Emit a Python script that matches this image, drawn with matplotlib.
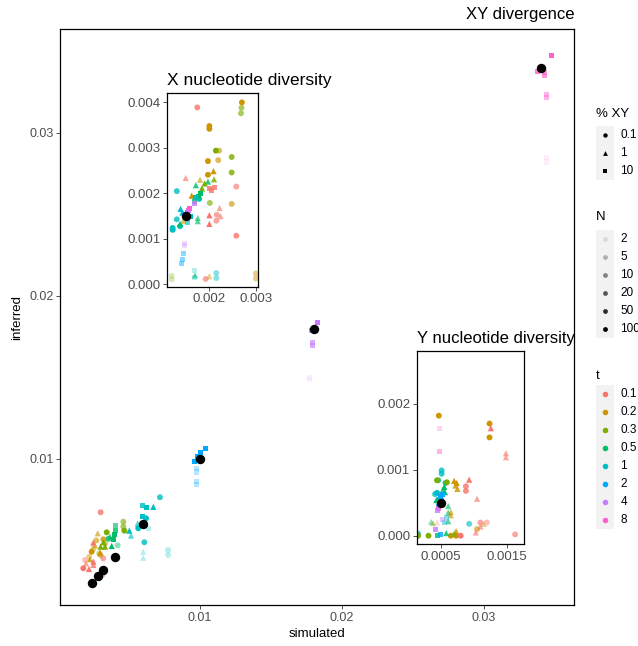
import matplotlib
matplotlib.use('Agg')
import matplotlib.pyplot as plt
from matplotlib.patches import Rectangle
from matplotlib.colors import to_rgba

plt.rcParams['font.family'] = ['Liberation Sans', 'DejaVu Sans']

# ---------------- categories ----------------
t_levels = [0.1, 0.2, 0.3, 0.5, 1, 2, 4, 8]
t_colors = ['#F8766D', '#CD9600', '#7CAE00', '#00BE67', '#00BFC4', '#00A9FF', '#C77CFF', '#FF61CC']
N_levels = [2, 5, 10, 20, 50, 100]
N_alpha = [0.1, 0.28, 0.46, 0.64, 0.82, 1.0]
pct_levels = [0.1, 1, 10]
pct_markers = ['o', '^', 's']
pct_sizes = [18, 20, 13]

# ---------------- XY divergence (main panel) ----------------
div_sim = [0.03477, 0.03375, 0.03425, 0.03425, 0.03437, 0.03437, 0.03439, 0.03439,
           0.01829, 0.01787, 0.01791, 0.01791, 0.01770, 0.01770,
           0.01037, 0.01005, 0.00981, 0.00958, 0.00977, 0.00977, 0.00977, 0.00977,
           0.00718, 0.00671, 0.00594, 0.00622, 0.00596, 0.00620, 0.00561, 0.00565, 0.00636, 0.00502,
           0.00514, 0.00608, 0.00600, 0.00600, 0.00775, 0.00775,
           0.00406, 0.00406, 0.00396, 0.00389, 0.00378, 0.00366, 0.00355, 0.00420,
           0.00460, 0.00460, 0.00467, 0.00343, 0.00331, 0.00300, 0.00320, 0.00290,
           0.00280, 0.00319, 0.00237, 0.00296, 0.00225, 0.00270, 0.00260, 0.00330, 0.00250, 0.00300, 0.00220,
           0.00300, 0.00249, 0.00190, 0.00197, 0.00249, 0.00249, 0.00178, 0.00218, 0.00312, 0.00319]
div_inf = [0.03477, 0.03379, 0.03370, 0.03350, 0.03237, 0.03215, 0.02848, 0.02822,
           0.01836, 0.01791, 0.01713, 0.01699, 0.01501, 0.01485,
           0.01066, 0.01041, 0.01014, 0.00983, 0.00943, 0.00920, 0.00861, 0.00845,
           0.00765, 0.00706, 0.00713, 0.00701, 0.00650, 0.00636, 0.00605, 0.00575, 0.00575, 0.00560,
           0.00530, 0.00489, 0.00431, 0.00394, 0.00442, 0.00411,
           0.00589, 0.00560, 0.00538, 0.00503, 0.00466, 0.00523, 0.00510, 0.00470,
           0.00615, 0.00585, 0.00560, 0.00550, 0.00462, 0.00462, 0.00490, 0.00420,
           0.00544, 0.00507, 0.00431, 0.00425, 0.00385, 0.00500, 0.00470, 0.00480, 0.00450, 0.00410, 0.00400,
           0.00673, 0.00487, 0.00380, 0.00360, 0.00370, 0.00350, 0.00329, 0.00325, 0.00288, 0.00390]
div_t = [8, 8, 8, 8, 8, 8, 8, 8,
         4, 4, 4, 4, 4, 4,
         2, 2, 2, 2, 2, 2, 2, 2,
         1, 1, 1, 1, 1, 1, 1, 1, 1, 1, 1, 1, 1, 1, 1, 1,
         0.5, 0.5, 0.5, 0.5, 0.5, 0.5, 0.5, 0.5,
         0.3, 0.3, 0.3, 0.3, 0.3, 0.3, 0.3, 0.3,
         0.2, 0.2, 0.2, 0.2, 0.2, 0.2, 0.2, 0.2, 0.2, 0.2, 0.2,
         0.1, 0.1, 0.1, 0.1, 0.1, 0.1, 0.1, 0.1, 0.1, 0.1]
div_N = [100, 50, 20, 20, 10, 10, 2, 2,
         100, 50, 20, 20, 2, 2,
         100, 100, 100, 100, 5, 5, 5, 5,
         50, 100, 50, 100, 100, 100, 20, 100, 5, 100, 20, 50, 5, 5, 5, 5,
         20, 50, 100, 100, 100, 50, 50, 10,
         20, 20, 100, 100, 100, 100, 100, 10,
         20, 50, 100, 100, 50, 20, 20, 20, 10, 20, 10,
         50, 100, 10, 20, 100, 50, 100, 100, 20, 20]
div_pct = [10, 10, 10, 10, 10, 10, 10, 10,
           10, 10, 10, 10, 10, 10,
           10, 10, 10, 10, 10, 10, 10, 10,
           0.1, 1, 10, 10, 10, 0.1, 1, 0.1, 10, 1, 1, 0.1, 1, 1, 0.1, 0.1,
           10, 10, 10, 10, 1, 1, 0.1, 0.1,
           0.1, 0.1, 0.1, 0.1, 1, 1, 1, 0.1,
           1, 0.1, 0.1, 1, 1, 0.1, 1, 0.1, 0.1, 0.1, 0.1,
           0.1, 1, 0.1, 1, 1, 1, 0.1, 1, 0.1, 0.1]
div_exp_sim = [0.0024, 0.0028, 0.0032, 0.0040, 0.0060, 0.0100, 0.0180, 0.0340]
div_exp_inf = [0.0024, 0.0028, 0.0032, 0.0040, 0.0060, 0.0100, 0.0180, 0.0340]

# ---------------- X nucleotide diversity ----------------
xd_sim = [0.00174, 0.00270, 0.00269, 0.00268, 0.00200, 0.00200, 0.00214, 0.00221, 0.00248, 0.00197,
          0.00219, 0.00248, 0.00209, 0.00197, 0.00149, 0.00180, 0.00190, 0.00197, 0.00210, 0.00200,
          0.00210, 0.00205, 0.00184, 0.00171, 0.00258, 0.00130, 0.00162, 0.00176, 0.00180, 0.00169,
          0.00167, 0.00201, 0.00248, 0.00222, 0.00200, 0.00200, 0.00216, 0.00215, 0.00224, 0.00258,
          0.00138, 0.00130, 0.00121, 0.00121, 0.00137, 0.00137, 0.00147, 0.00152, 0.00156, 0.00158,
          0.00175, 0.00175, 0.00170, 0.00178, 0.00147, 0.00147, 0.00144, 0.00142, 0.00140, 0.00119,
          0.00119, 0.00169, 0.00169, 0.00169, 0.00192, 0.00200, 0.00215, 0.00215, 0.00300, 0.00300,
          0.00152, 0.00144, 0.00160, 0.00142]
xd_inf = [0.00389, 0.00400, 0.00388, 0.00376, 0.00348, 0.00342, 0.00294, 0.00294, 0.00280, 0.00271,
          0.00273, 0.00246, 0.00249, 0.00241, 0.00234, 0.00230, 0.00222, 0.00226, 0.00231, 0.00210,
          0.00213, 0.00206, 0.00211, 0.00218, 0.00215, 0.00205, 0.00195, 0.00193, 0.00200, 0.00183,
          0.00178, 0.00179, 0.00177, 0.00168, 0.00152, 0.00133, 0.00153, 0.00140, 0.00150, 0.00107,
          0.00166, 0.00143, 0.00124, 0.00120, 0.00128, 0.00133, 0.00153, 0.00159, 0.00162, 0.00166,
          0.00146, 0.00139, 0.00190, 0.00188, 0.00091, 0.00085, 0.00068, 0.00054, 0.00045, 0.00019,
          0.00011, 0.00031, 0.00020, 0.00015, 0.00012, 0.00018, 0.00025, 0.00014, 0.00024, 0.00013,
          0.00137, 0.00140, 0.00150, 0.00158]
xd_t = [0.1, 0.2, 0.3, 0.3, 0.2, 0.2, 0.3, 0.2, 0.3, 0.2,
        0.2, 0.3, 0.2, 0.2, 0.1, 0.2, 0.3, 0.5, 0.3, 0.1,
        0.1, 0.1, 0.3, 0.5, 0.1, 1, 0.2, 0.5, 0.5, 0.5,
        4, 0.3, 0.2, 0.1, 0.1, 0.1, 0.1, 0.1, 0.1, 0.1,
        1, 1, 1, 1, 1, 0.5, 2, 2, 4, 8,
        0.5, 0.5, 1, 1, 4, 4, 2, 2, 2, 0.3,
        0.3, 1, 0.5, 1, 0.1, 0.2, 1, 1, 0.2, 0.2,
        1, 0.2, 1, 1]
xd_N = [50, 100, 20, 20, 100, 100, 100, 20, 50, 100,
        20, 50, 100, 100, 20, 20, 100, 50, 50, 50,
        50, 50, 100, 50, 20, 50, 100, 100, 100, 50,
        50, 20, 20, 20, 100, 100, 20, 20, 20, 50,
        100, 50, 100, 100, 100, 100, 100, 100, 100, 100,
        20, 20, 100, 100, 5, 5, 10, 10, 10, 5,
        5, 5, 20, 5, 20, 10, 10, 10, 10, 10,
        20, 20, 100, 100]
xd_pct = [0.1, 0.1, 0.1, 0.1, 0.1, 0.1, 0.1, 0.1, 0.1, 0.1,
          0.1, 0.1, 1, 0.1, 1, 1, 1, 1, 1, 10,
          10, 10, 1, 1, 0.1, 0.1, 1, 10, 10, 10,
          10, 0.1, 0.1, 1, 1, 1, 0.1, 0.1, 1, 0.1,
          1, 0.1, 0.1, 0.1, 0.1, 1, 10, 10, 10, 10,
          1, 1, 10, 0.1, 10, 10, 10, 10, 10, 0.1,
          0.1, 10, 1, 10, 0.1, 1, 0.1, 0.1, 0.1, 0.1,
          10, 1, 10, 1]
xd_exp_sim = [0.0015]
xd_exp_inf = [0.0015]

# ---------------- Y nucleotide diversity ----------------
yd_sim = [0.00183, 0.000467, 0.00048, 0.00048, 0.00124, 0.00124, 0.00126, 0.00149, 0.00149, 0.00051,
          0.00051, 0.00044, 0.00046, 0.00057, 0.00059, 0.00055, 0.00053, 0.00056, 0.00070, 0.00074,
          0.00072, 0.00075, 0.00093, 0.00088, 0.00088, 0.00105, 0.00043, 0.00041, 0.00047, 0.00050,
          0.00052, 0.00046, 0.00048, 0.00046, 0.00045, 0.00061, 0.00061, 0.00061, 0.00065, 0.00065,
          0.00058, 0.00055, 0.00052, 0.00035, 0.00038, 0.00044, 0.00015, 0.00031, 0.00065, 0.00073,
          0.00080, 0.00163, 0.00015, 0.00045, 0.00050, 0.00042, 0.00093, 0.00110, 0.00115, 0.00120,
          0.00110, 0.00103, 0.00105, 0.00073, 0.00070, 0.00058, 0.00050, 0.00044]
yd_inf = [0.00267, 0.00182, 0.00163, 0.00128, 0.00170, 0.00149, 0.00163, 0.00125, 0.00119, 0.00099,
          0.00094, 0.00084, 0.00084, 0.00080, 0.00081, 0.00074, 0.00070, 0.00066, 0.00083, 0.00080,
          0.00076, 0.00071, 0.00085, 0.00075, 0.00068, 0.00056, 0.00054, 0.00063, 0.00055, 0.00060,
          0.00062, 0.00045, 0.00050, 0.00042, 0.00038, 0.00045, 0.00035, 0.00022, 0.00031, 0.00036,
          0.00028, 0.00020, 0.00024, 0.00021, 0.00019, 0.00020, 0.00000, 0.00000, 0.00000, 0.00000,
          0.00000, 0.00002, 0.00003, 0.00000, 0.00002, 0.00010, 0.00018, 0.00020, 0.00018, 0.00020,
          0.00014, 0.00005, 0.00010, 0.00007, 0.00003, 0.00004, 0.00055, 0.00065]
yd_t = [0.1, 0.2, 8, 8, 0.2, 0.2, 0.1, 0.1, 0.1, 1,
        1, 0.3, 1, 1, 0.3, 0.5, 0.5, 0.5, 0.2, 0.2,
        0.2, 0.2, 0.1, 0.1, 0.1, 0.1, 0.5, 1, 2, 2,
        2, 2, 4, 8, 4, 0.5, 0.5, 0.5, 0.2, 0.2,
        1, 1, 4, 0.5, 0.3, 0.1, 0.3, 0.3, 0.2, 0.2,
        0.1, 0.1, 1, 0.5, 2, 4, 1, 0.1, 0.2, 0.1,
        0.1, 0.1, 0.2, 0.2, 0.3, 0.5, 1, 1]
yd_N = [20, 100, 5, 10, 100, 100, 100, 20, 20, 50,
        50, 100, 50, 100, 100, 100, 50, 100, 100, 100,
        50, 50, 100, 50, 50, 20, 100, 50, 100, 100,
        100, 50, 100, 50, 50, 20, 20, 20, 20, 20,
        10, 10, 10, 10, 10, 5, 100, 100, 100, 100,
        100, 20, 50, 50, 50, 50, 20, 20, 10, 10,
        20, 20, 20, 50, 50, 50, 100, 100]
yd_pct = [0.1, 0.1, 10, 10, 0.1, 0.1, 1, 1, 1, 0.1,
          0.1, 0.1, 0.1, 0.1, 0.1, 1, 1, 1, 1, 1,
          1, 1, 1, 0.1, 0.1, 1, 1, 0.1, 10, 10,
          10, 10, 10, 10, 10, 1, 1, 1, 1, 1,
          10, 10, 10, 1, 1, 1, 0.1, 0.1, 0.1, 0.1,
          0.1, 0.1, 0.1, 10, 10, 10, 0.1, 0.1, 1, 0.1,
          1, 1, 0.1, 1, 1, 1, 0.1, 0.1]
yd_exp_sim = [0.0005]
yd_exp_inf = [0.0005]

W, H = 638, 646
fig = plt.figure(figsize=(W / 100, H / 100), dpi=100)


def axes_px(x0, y0, x1, y1, **kw):
    return fig.add_axes([x0 / W, 1 - y1 / H, (x1 - x0) / W, (y1 - y0) / H], **kw)


def style(ax, xticks, xlabels, yticks, ylabels, fs=9):
    ax.set_xticks(xticks)
    ax.set_xticklabels(xlabels)
    ax.set_yticks(yticks)
    ax.set_yticklabels(ylabels)
    ax.tick_params(which='major', direction='out', length=2.7, width=0.6, color='#333333',
                   labelcolor='#4D4D4D', labelsize=fs, pad=2)
    for sp in ax.spines.values():
        sp.set_color('black')
        sp.set_linewidth(0.9)


def draw_points(ax, xs, ys, ts, Ns, ps, ex, ey):
    for p, m, s in zip(pct_levels, pct_markers, pct_sizes):
        idx = [i for i in range(len(xs)) if ps[i] == p]
        idx.sort(key=lambda i: N_levels.index(Ns[i]))
        cols = [to_rgba(t_colors[t_levels.index(ts[i])], N_alpha[N_levels.index(Ns[i])]) for i in idx]
        ax.scatter([xs[i] for i in idx], [ys[i] for i in idx], marker=m, s=s, c=cols,
                   linewidths=0, zorder=1.5)
    ax.scatter(ex, ey, s=46, c='black', linewidths=0, zorder=3)


# main panel
ax = axes_px(60, 29, 574, 605)
ax.set_xlim(0.00014, 0.03634)
ax.set_ylim(0.00104, 0.03638)
draw_points(ax, div_sim, div_inf, div_t, div_N, div_pct, div_exp_sim, div_exp_inf)
style(ax, [0.01, 0.02, 0.03], ['0.01', '0.02', '0.03'],
      [0.01, 0.02, 0.03], ['0.01', '0.02', '0.03'], fs=9)
ax.set_xlabel('simulated', fontsize=9.5, labelpad=3)
ax.set_ylabel('inferred', fontsize=9.5, labelpad=4)
ax.set_title('XY divergence', loc='right', fontsize=12, pad=7)

# X diversity inset
axx = axes_px(167.3, 93.3, 257.7, 286.7)
axx.set_xlim(0.001095, 0.00304)
axx.set_ylim(-0.00005, 0.0042)
draw_points(axx, xd_sim, xd_inf, xd_t, xd_N, xd_pct, xd_exp_sim, xd_exp_inf)
style(axx, [0.002, 0.003], ['0.002', '0.003'],
      [0.0, 0.001, 0.002, 0.003, 0.004], ['0.000', '0.001', '0.002', '0.003', '0.004'], fs=9.5)
axx.set_title('X nucleotide diversity', loc='left', fontsize=12.5, pad=6)

# Y diversity inset
axy = axes_px(416.7, 351, 524.3, 544.3)
axy.set_xlim(0.00013, 0.00177)
axy.set_ylim(-0.00013, 0.0028)
draw_points(axy, yd_sim, yd_inf, yd_t, yd_N, yd_pct, yd_exp_sim, yd_exp_inf)
style(axy, [0.0005, 0.0015], ['0.0005', '0.0015'],
      [0.0, 0.001, 0.002], ['0.000', '0.001', '0.002'], fs=9.5)
axy.set_title('Y nucleotide diversity', loc='left', fontsize=12, pad=6)

# legends (overlay in pixel coordinates)
ov = fig.add_axes([0, 0, 1, 1], zorder=10)
ov.set_xlim(0, W)
ov.set_ylim(H, 0)
ov.axis('off')
ov.patch.set_alpha(0)

kx, kw, kh = 596, 17.5, 18
lx = 620.5


def legend_block(title, ty, y0, labels, draw_key):
    ov.text(kx, ty, title, fontsize=9.5, va='center', ha='left', color='black')
    ov.add_patch(Rectangle((kx, y0), kw, kh * len(labels), facecolor='#F2F2F2', edgecolor='none'))
    for i, lab in enumerate(labels):
        cy = y0 + kh * (i + 0.5)
        draw_key(i, kx + kw / 2, cy)
        ov.text(lx, cy, lab, fontsize=8.5, va='center', ha='left', color='black')


legend_block('% XY', 114, 126, ['0.1', '1', '10'],
             lambda i, x, y: ov.scatter([x], [y], marker=pct_markers[i], s=[10, 12, 8][i],
                                        c='black', linewidths=0))
legend_block('N', 217, 230, [str(n) for n in N_levels],
             lambda i, x, y: ov.scatter([x], [y], marker='o', s=12,
                                        c=[to_rgba('black', N_alpha[i])], linewidths=0))
legend_block('t', 376, 385, ['0.1', '0.2', '0.3', '0.5', '1', '2', '4', '8'],
             lambda i, x, y: ov.scatter([x], [y], marker='o', s=16,
                                        c=t_colors[i], linewidths=0))

fig.savefig('out.png', dpi=100)
